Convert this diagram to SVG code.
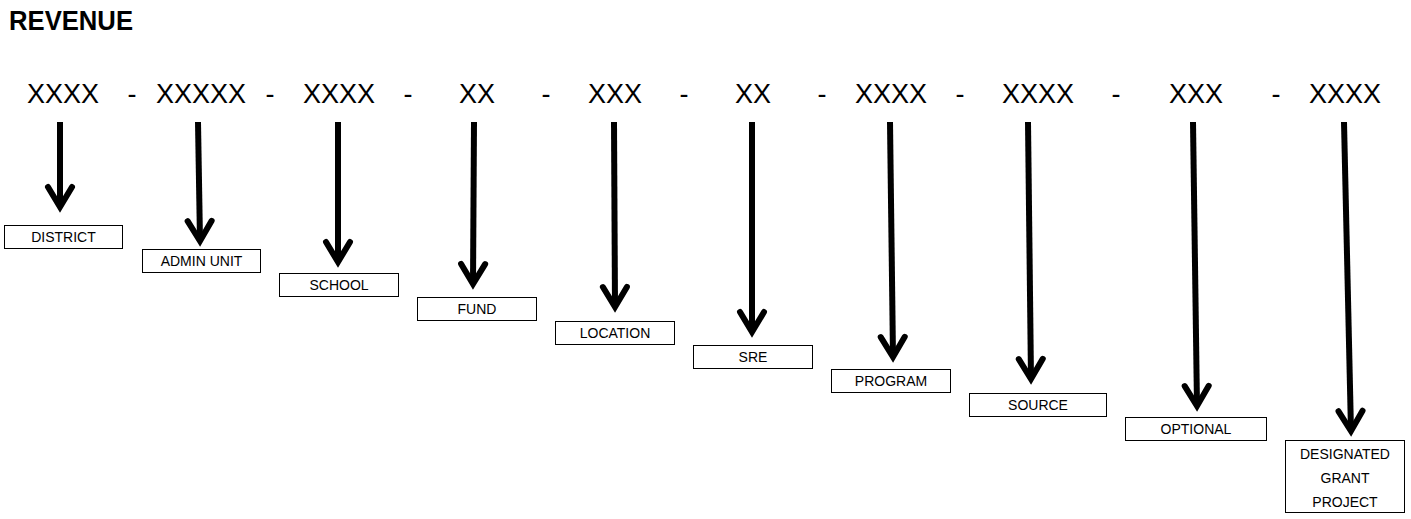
<svg xmlns="http://www.w3.org/2000/svg" width="1411" height="519" viewBox="0 0 1411 519">
  <style>
    .title { font-family: "Liberation Sans", Arial, sans-serif; font-weight: bold; font-size: 27px; fill: #000; }
    .seg { font-family: "Liberation Sans", Arial, sans-serif; font-size: 27px; fill: #000; text-anchor: middle; }
    .dash { font-family: "Liberation Sans", Arial, sans-serif; font-size: 27px; fill: #000; text-anchor: middle; }
    .box { fill: #fff; stroke: #000; stroke-width: 1; }
    .lbl { font-family: "Liberation Sans", Arial, sans-serif; font-size: 14px; fill: #000; text-anchor: middle; }
    .arr { fill: none; stroke: #000; stroke-width: 6; marker-end: url(#head); }
  </style>
  <defs>
    <marker id="head" markerUnits="userSpaceOnUse" orient="auto" markerWidth="40" markerHeight="40" refX="0" refY="0" viewBox="-30 -20 40 40" overflow="visible">
      <path d="M-20,-12 L0,0 L-20,12" fill="none" stroke="#000" stroke-width="6" stroke-linecap="round" stroke-linejoin="miter"/>
    </marker>
  </defs>
  <rect width="1411" height="519" fill="#fff"/>
  <text class="title" x="9" y="30" textLength="124" lengthAdjust="spacingAndGlyphs">REVENUE</text>

  <g id="header">
    <text class="seg" x="63" y="103">XXXX</text>
    <text class="dash" x="132" y="103">-</text>
    <text class="seg" x="201" y="103">XXXXX</text>
    <text class="dash" x="270" y="103">-</text>
    <text class="seg" x="339" y="103">XXXX</text>
    <text class="dash" x="408" y="103">-</text>
    <text class="seg" x="477" y="103">XX</text>
    <text class="dash" x="546" y="103">-</text>
    <text class="seg" x="615" y="103">XXX</text>
    <text class="dash" x="684" y="103">-</text>
    <text class="seg" x="753" y="103">XX</text>
    <text class="dash" x="822" y="103">-</text>
    <text class="seg" x="891" y="103">XXXX</text>
    <text class="dash" x="960" y="103">-</text>
    <text class="seg" x="1038" y="103">XXXX</text>
    <text class="dash" x="1116" y="103">-</text>
    <text class="seg" x="1196" y="103">XXX</text>
    <text class="dash" x="1276" y="103">-</text>
    <text class="seg" x="1345" y="103">XXXX</text>
  </g>

  <g id="connectors">
    <path class="arr" d="M60,122 L60,207"/>
    <path class="arr" d="M198,122 L200,241"/>
    <path class="arr" d="M338,122 L338,262"/>
    <path class="arr" d="M474,122 L473,284"/>
    <path class="arr" d="M614,122 L615,307"/>
    <path class="arr" d="M752,122 L752,332"/>
    <path class="arr" d="M890,122 L893,357"/>
    <path class="arr" d="M1028,122 L1031,379"/>
    <path class="arr" d="M1193,122 L1197,406"/>
    <path class="arr" d="M1344,122 L1351,431"/>
  </g>

  <g id="district"><rect class="box" x="4.5" y="225.5" width="118" height="23"/><text class="lbl" x="63.5" y="242">DISTRICT</text></g>
  <g id="admin-unit"><rect class="box" x="142.5" y="249.5" width="118" height="23"/><text class="lbl" x="201.5" y="266">ADMIN UNIT</text></g>
  <g id="school"><rect class="box" x="279.5" y="273.5" width="119" height="23"/><text class="lbl" x="339" y="290">SCHOOL</text></g>
  <g id="fund"><rect class="box" x="417.5" y="297.5" width="119" height="23"/><text class="lbl" x="477" y="314">FUND</text></g>
  <g id="location"><rect class="box" x="555.5" y="321.5" width="119" height="23"/><text class="lbl" x="615" y="338">LOCATION</text></g>
  <g id="sre"><rect class="box" x="693.5" y="345.5" width="119" height="23"/><text class="lbl" x="753" y="362">SRE</text></g>
  <g id="program"><rect class="box" x="831.5" y="369.5" width="119" height="23"/><text class="lbl" x="891" y="386">PROGRAM</text></g>
  <g id="source"><rect class="box" x="969.5" y="393.5" width="137" height="23"/><text class="lbl" x="1038" y="410">SOURCE</text></g>
  <g id="optional"><rect class="box" x="1125.5" y="417.5" width="141" height="23"/><text class="lbl" x="1196" y="434">OPTIONAL</text></g>
  <g id="designated-grant-project"><rect class="box" x="1285.5" y="440.5" width="119" height="72"/>
    <text class="lbl" x="1345" y="459">DESIGNATED</text>
    <text class="lbl" x="1345" y="483">GRANT</text>
    <text class="lbl" x="1345" y="507">PROJECT</text>
  </g>
</svg>
